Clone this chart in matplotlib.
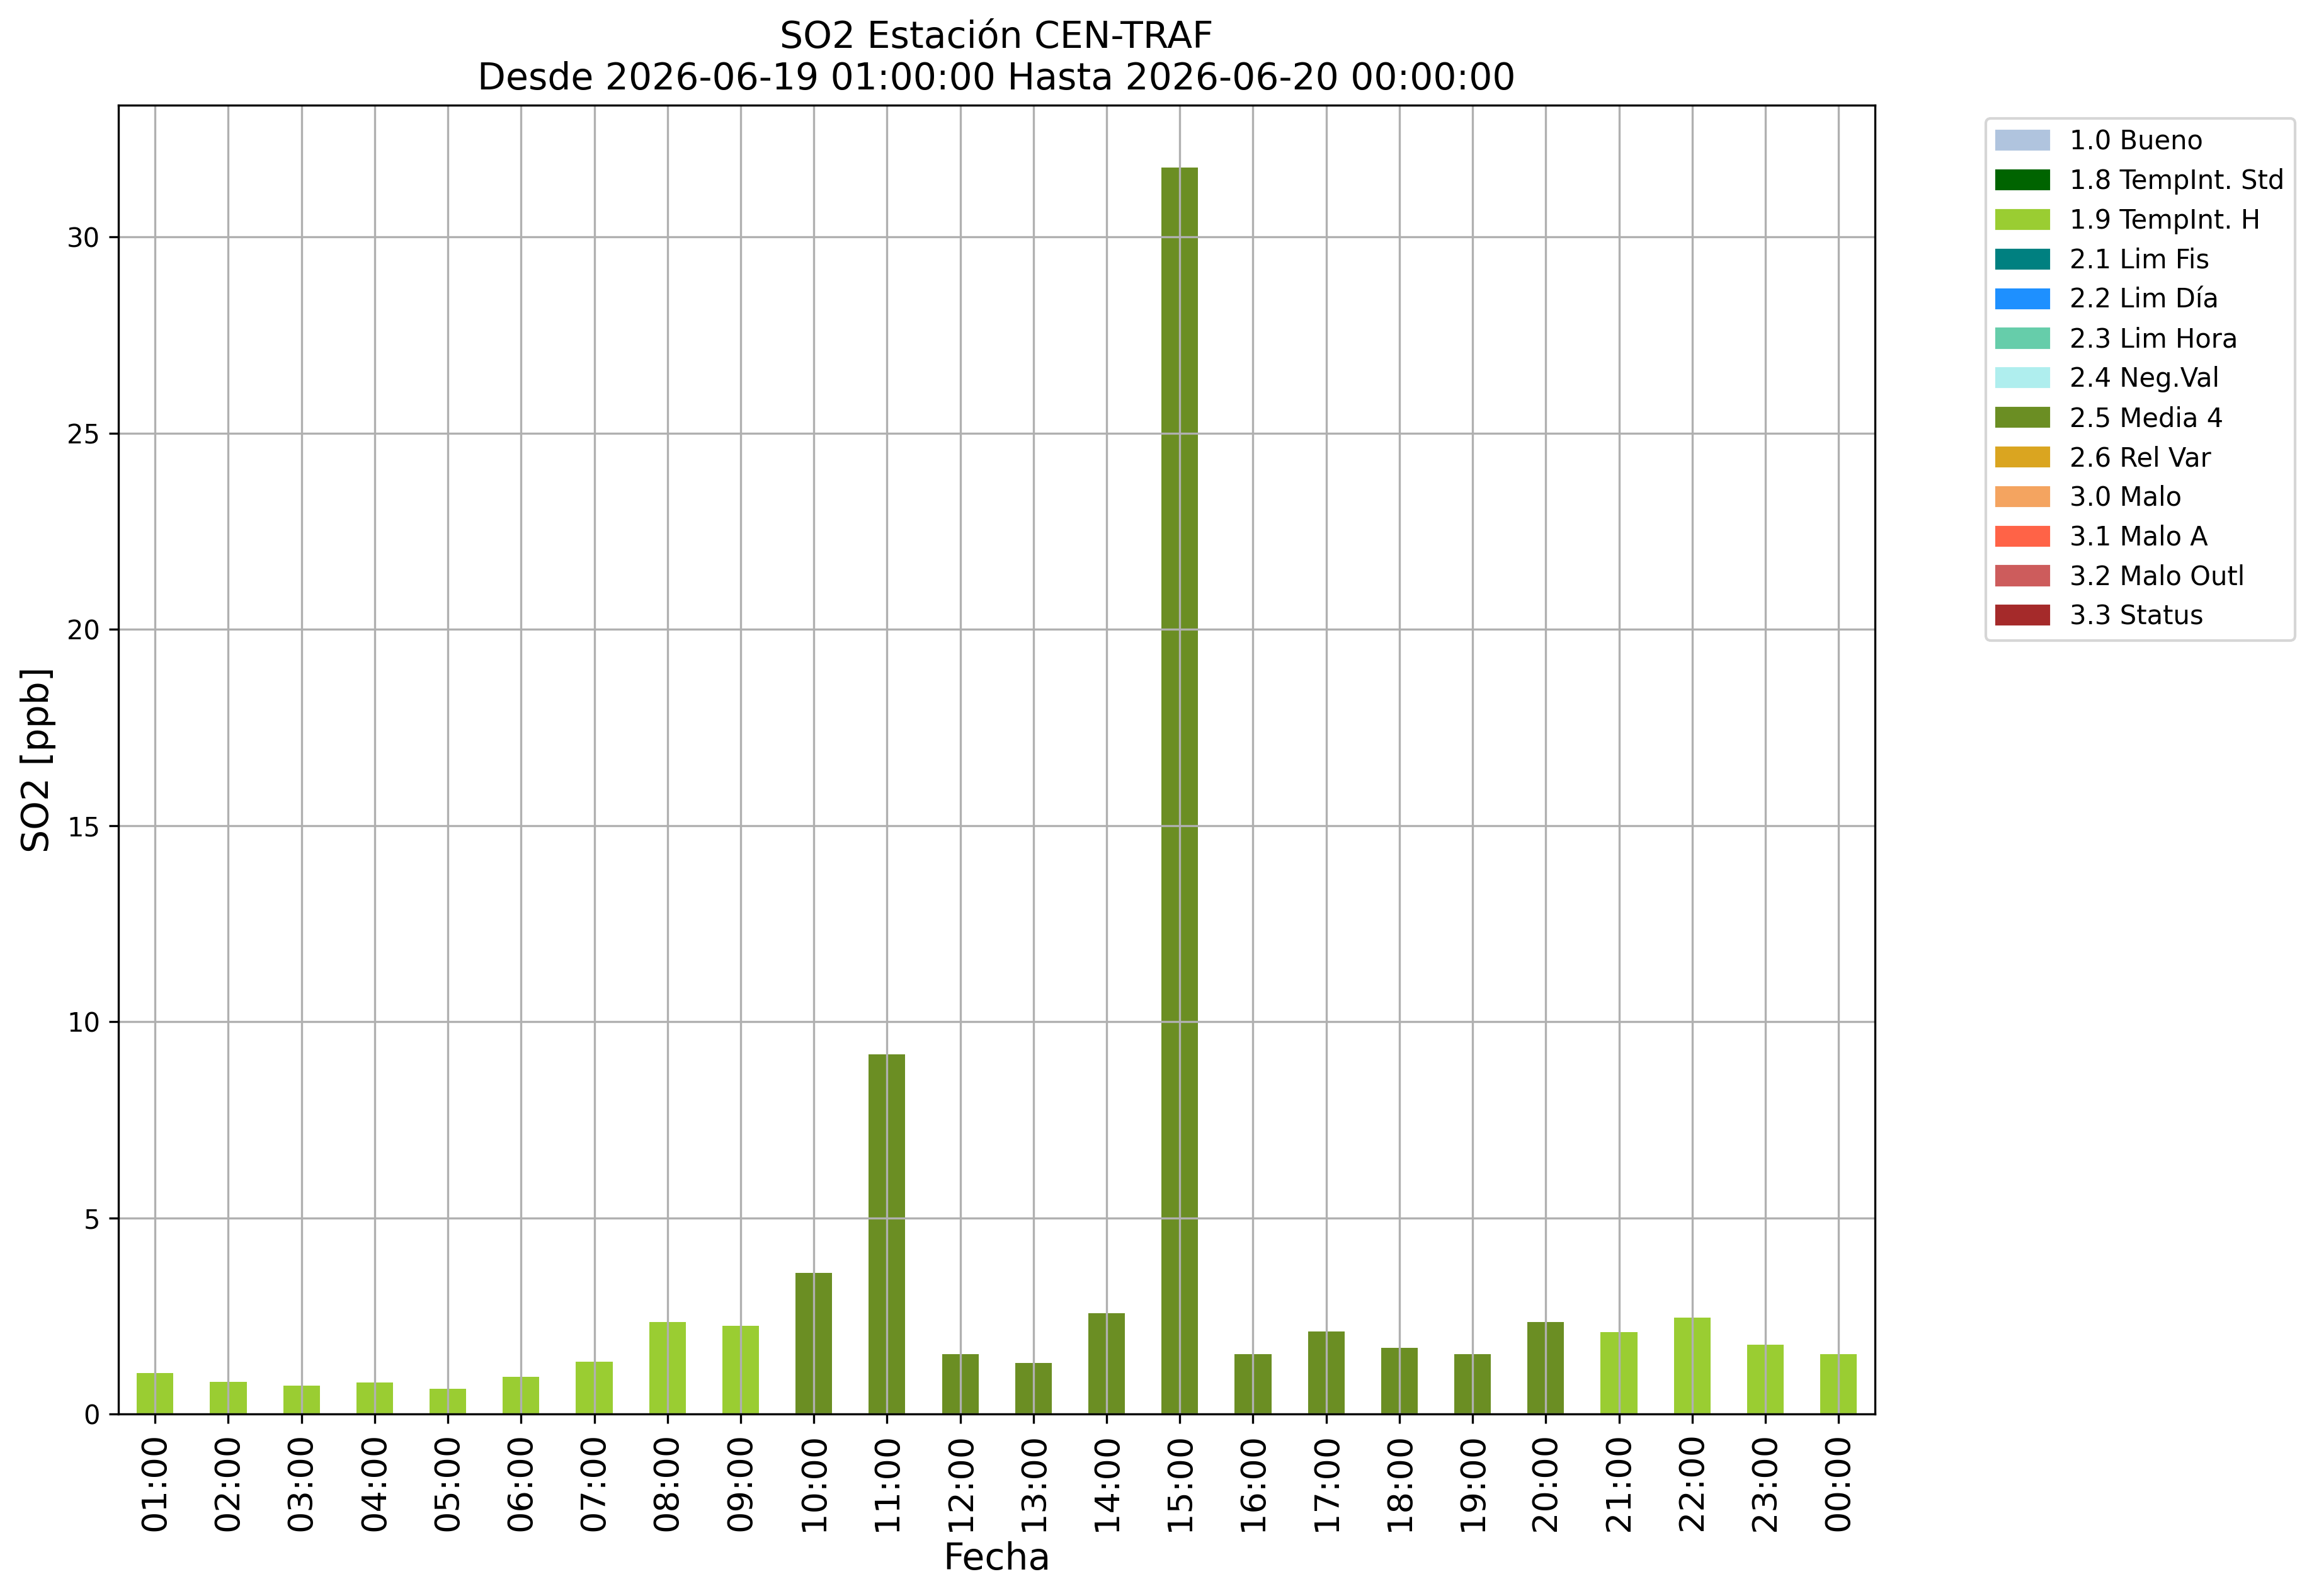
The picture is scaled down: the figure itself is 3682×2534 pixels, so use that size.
import matplotlib
matplotlib.use("Agg")
import matplotlib.pyplot as plt
from matplotlib.patches import Patch

# hourly SO2 values, 2026-06-19 01:00 .. 2026-06-20 00:00
hours = ["01:00", "02:00", "03:00", "04:00", "05:00", "06:00", "07:00", "08:00",
         "09:00", "10:00", "11:00", "12:00", "13:00", "14:00", "15:00", "16:00",
         "17:00", "18:00", "19:00", "20:00", "21:00", "22:00", "23:00", "00:00"]
so2 = [1.05, 0.82, 0.73, 0.81, 0.65, 0.95, 1.34, 2.35, 2.25, 3.59, 9.16, 1.52,
       1.31, 2.57, 31.77, 1.53, 2.11, 1.68, 1.52, 2.35, 2.09, 2.45, 1.77, 1.52]
flags = ["1.9", "1.9", "1.9", "1.9", "1.9", "1.9", "1.9", "1.9", "1.9", "2.5",
         "2.5", "2.5", "2.5", "2.5", "2.5", "2.5", "2.5", "2.5", "2.5", "2.5",
         "1.9", "1.9", "1.9", "1.9"]

# validation flag categories (legend)
flag_codes = ["1.0", "1.8", "1.9", "2.1", "2.2", "2.3", "2.4", "2.5", "2.6",
              "3.0", "3.1", "3.2", "3.3"]
flag_names = ["Bueno", "TempInt. Std", "TempInt. H", "Lim Fis", "Lim Día",
              "Lim Hora", "Neg.Val", "Media 4", "Rel Var", "Malo", "Malo A",
              "Malo Outl", "Status"]
flag_colors = ["lightsteelblue", "darkgreen", "yellowgreen", "teal", "dodgerblue",
               "mediumaquamarine", "paleturquoise", "olivedrab", "goldenrod",
               "sandybrown", "tomato", "indianred", "brown"]

color_of = dict(zip(flag_codes, flag_colors))

fig = plt.figure(figsize=(3682 / 300, 2534 / 300), dpi=300)
ax = fig.add_axes([0.0511, 0.1140, 0.8086 - 0.0511, 0.9341 - 0.1140])

x = list(range(len(hours)))
ax.bar(x, so2, width=0.5, color=[color_of[f] for f in flags])

ax.set_xlim(-0.5, len(hours) - 0.5)
ax.set_xticks(x)
ax.set_xticklabels(hours, rotation=90, fontsize=13)
ax.tick_params(axis="y", labelsize=10)
ax.grid(True)

ax.set_xlabel("Fecha", fontsize=14)
ax.set_ylabel("SO2 [ppb]", fontsize=14)
ax.set_title("SO2 Estación CEN-TRAF\nDesde 2026-06-19 01:00:00 Hasta 2026-06-20 00:00:00",
             fontsize=14)

handles = [Patch(color=c, label=f"{k} {n}")
           for k, n, c in zip(flag_codes, flag_names, flag_colors)]
ax.legend(handles=handles, loc="upper left", bbox_to_anchor=(1.0555, 1),
          fontsize=10)

fig.savefig("out.png", dpi=300)
